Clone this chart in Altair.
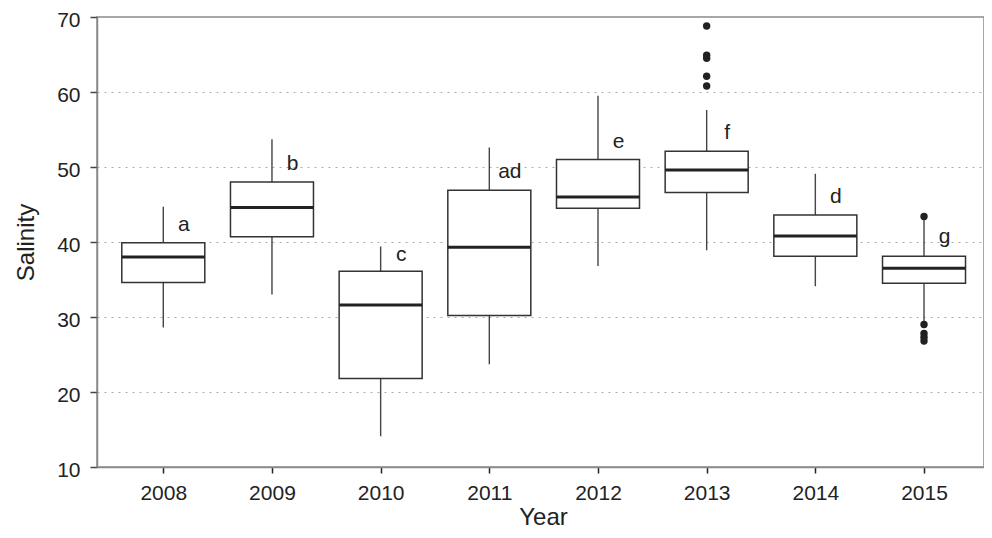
import altair as alt
import pandas as pd

years = ["2008", "2009", "2010", "2011", "2012", "2013", "2014", "2015"]
whisker_low = [28.6, 33.0, 14.1, 23.7, 36.8, 38.9, 34.1, 29.4]
q1 = [34.6, 40.7, 21.8, 30.2, 44.5, 46.6, 38.1, 34.5]
median = [38.0, 44.6, 31.6, 39.3, 46.0, 49.6, 40.8, 36.5]
q3 = [39.9, 48.0, 36.1, 46.9, 51.0, 52.1, 43.6, 38.1]
whisker_high = [44.7, 53.7, 39.4, 52.6, 59.5, 57.6, 49.1, 43.3]
letters = ["a", "b", "c", "ad", "e", "f", "d", "g"]
letter_y = [41.5, 49.6, 37.5, 48.5, 52.6, 53.8, 45.2, 39.9]

outlier_years = ["2013", "2013", "2013", "2013", "2013", "2015", "2015", "2015", "2015", "2015"]
outlier_values = [68.8, 64.9, 64.5, 62.1, 60.8, 43.4, 29.0, 27.8, 27.3, 26.8]

df = pd.DataFrame({
    "Year": years, "lo": whisker_low, "q1": q1, "med": median,
    "q3": q3, "hi": whisker_high, "letter": letters, "ly": letter_y,
})
out = pd.DataFrame({"Year": outlier_years, "v": outlier_values})

FONT = "Liberation Sans"

xscale = alt.Scale(type="point", domain=years, padding=0.581, align=0.525)
yscale = alt.Scale(domain=[10, 70], nice=False, zero=False)

xax = alt.Axis(title="Year", labelAngle=0, tickSize=6, labelPadding=9,
               labelFontSize=21, titleFontSize=24, titleFontWeight="normal",
               titleX=446, titleY=57, titleBaseline="alphabetic",
               grid=False, domainColor="#8a8a8a", domainWidth=1.5,
               tickColor="#222", tickWidth=1.5, labelColor="#222", titleColor="#222")
yax = alt.Axis(title="Salinity", values=[10, 20, 30, 40, 50, 60, 70], tickSize=7,
               labelPadding=10, labelOffset=3, labelFontSize=21, titleFontSize=24,
               titleFontWeight="normal", titleX=-64, titleY=225, titleAngle=270,
               titleAlign="center", titleBaseline="alphabetic",
               grid=True, gridDash=[2, 5], gridColor="#aaaaaa", gridWidth=1.2,
               domainColor="#8a8a8a", domainWidth=1.5, tickColor="#444",
               tickWidth=1.5, labelColor="#222", titleColor="#222")

base = alt.Chart(df)

whisk = base.mark_rule(color="#444", strokeWidth=1.4).encode(
    x=alt.X("Year:N", scale=xscale, axis=xax),
    y=alt.Y("lo:Q", scale=yscale, axis=yax),
    y2="hi:Q",
)
box = base.mark_bar(size=83, fill="white", stroke="#333", strokeWidth=1.5,
                    opacity=1).encode(
    x=alt.X("Year:N", scale=xscale),
    y=alt.Y("q1:Q", scale=yscale),
    y2="q3:Q",
)
med = base.mark_tick(size=83, thickness=3, color="#222", opacity=1).encode(
    x=alt.X("Year:N", scale=xscale),
    y=alt.Y("med:Q", scale=yscale),
)
pts = alt.Chart(out).mark_circle(size=55, color="#222", opacity=1).encode(
    x=alt.X("Year:N", scale=xscale),
    y=alt.Y("v:Q", scale=yscale),
)
txt = base.mark_text(dx=20.5, align="center", baseline="alphabetic",
                     fontSize=21, color="#222", font=FONT).encode(
    x=alt.X("Year:N", scale=xscale),
    y=alt.Y("ly:Q", scale=yscale),
    text="letter:N",
)

chart = alt.layer(whisk, box, med, pts, txt).properties(
    width=887, height=450,
    autosize=alt.AutoSizeParams(type="none"),
    padding={"left": 89, "top": 9, "right": 0, "bottom": 63},
).configure(font=FONT).configure_view(
    stroke="#8a8a8a", strokeWidth=1.5
)

chart.save("out.html", embed_options={"renderer": "svg", "actions": False})
